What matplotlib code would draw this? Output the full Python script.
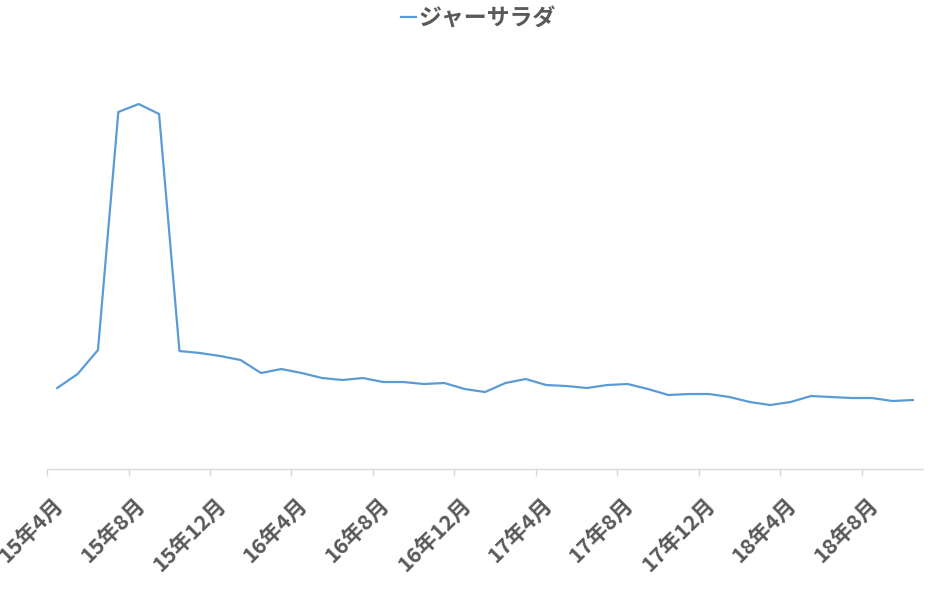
import matplotlib
matplotlib.use("Agg")
import matplotlib.pyplot as plt
import matplotlib.transforms as mtransforms
import numpy as np

plt.rcParams['font.family'] = ['Noto Sans CJK JP', 'DejaVu Sans']

# monthly values, 15年4月 .. 18年10月 (arbitrary units)
months = []
for y in range(15, 19):
    for m in range(1, 13):
        if (y == 15 and m < 4) or (y == 18 and m > 10):
            continue
        months.append(f"{y}年{m}月")

values = [81, 95, 119, 357, 365, 355, 118, 116, 113, 109,
          96, 100, 96, 91, 89, 91, 87, 87, 85, 86,
          80, 77, 86, 90, 84, 83, 81, 84, 85, 80,
          74, 75, 75, 72, 67, 64, 67, 73, 72, 71,
          71, 68, 69]
series_name = "ジャーサラダ"

line_color = "#5B9BD5"
text_color = "#595959"
axis_color = "#D9D9D9"

fig = plt.figure(figsize=(9.35, 6.02), dpi=100)
ax = fig.add_axes([0.0503, 0.2209, 0.9369, 0.6977])

x = np.arange(len(values))
ax.plot(x, values, color=line_color, linewidth=1.6, label=series_name)

ax.set_xlim(-0.5, len(values) - 0.5)
ax.set_ylim(0, 420)

# labels on every 4th category, tick marks on category boundaries
label_pos = x[::4]
ax.set_xticks(label_pos)
ax.set_xticklabels([months[i] for i in label_pos], rotation=45, ha='right', va='top',
                   rotation_mode='anchor', fontsize=15.5, fontweight='bold', color=text_color)
ax.tick_params(axis='x', which='major', length=0, pad=18)
ax.set_xticks(label_pos - 0.5, minor=True)
ax.tick_params(axis='x', which='minor', length=5, width=1, color=axis_color)
for lab in ax.get_xticklabels():
    lab.set_transform(lab.get_transform() + mtransforms.ScaledTranslation(-0.05, 0, fig.dpi_scale_trans))

ax.set_yticks([])
for s in ['top', 'right', 'left']:
    ax.spines[s].set_visible(False)
ax.spines['bottom'].set_color(axis_color)
ax.spines['bottom'].set_linewidth(1)

leg = fig.legend(loc='center', bbox_to_anchor=(478 / 935, 1 - 19 / 602), frameon=False,
                 handlelength=0.65, handletextpad=0.1,
                 prop={'size': 16.5, 'weight': 'bold'})
for t in leg.get_texts():
    t.set_color(text_color)

fig.savefig("out.png", dpi=100)
